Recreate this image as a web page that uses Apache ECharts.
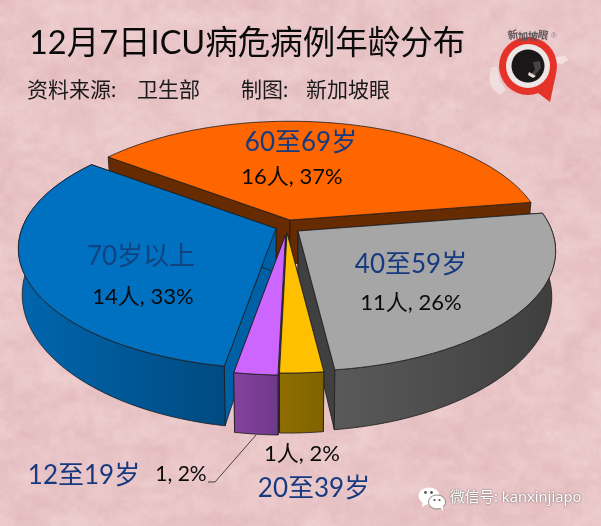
<!DOCTYPE html>
<html>
<head>
<meta charset="utf-8">
<style>html,body{margin:0;padding:0;background:#e8c0c2;overflow:hidden}#chart{width:601px;height:526px}</style>
<script src="https://cdn.jsdelivr.net/npm/echarts@6/dist/echarts.min.js"></script>
</head>
<body>
<div id="chart"></div>
<script>
// Cases by age group, listed clockwise from the back of the pie.
const ageGroups = ['60至69岁', '40至59岁', '20至39岁', '12至19岁', '70岁以上'];
const caseCounts = [16, 11, 1, 1, 14];
const countLabels = ['16人, 37%', '11人, 26%', '1人, 2%', '1, 2%', '14人, 33%'];

// Colours of each wedge: top face, cut faces, outer wall gradient.
const topColors = ['#FF6600', '#A6A6A6', '#FFC000', '#CC66FF', '#0070C0'];
const cutColors = ['#662B00', '#404040', '#6E5300', '#6A2F8C', '#0060A6'];
const wallFrom = ['#662B00', '#5A5A5A', '#8F6E00', '#85419F', '#0066AE'];
const wallTo = ['#662B00', '#3E3E3E', '#806300', '#6E3A8A', '#004A80'];

// Layout of the exploded wedges: apex, scale and paint order.
const apexX = [290, 298, 287, 285.5, 276];
const apexY = [220, 231, 233, 235, 228.5];
const wedgeScale = [0.985, 1, 1, 1, 1];
const drawOrder = [0, 4, 1, 3, 2];
const nameAt = [[301, 143], [411, 265], [314, 489], [84, 476], [141, 257]];
const detailAt = [[292, 177], [411, 303], [302, 454], [181, 474], [143, 297]];
const nameColors = ['#163A80', '#163A80', '#163A80', '#163A80', '#10437F'];

// Perspective of the disc.
const startDeg = -53;
const radiusX = 254, radiusY = 116.7, persp = 1 / 6;
const depth = 44, depthPersp = 0.267, bottomShrink = 0.985;
const outline = { stroke: '#1c1c1c', lineWidth: 0.8 };
const cjk = 'Lato, "Noto Sans CJK SC", sans-serif';

// Mottled paper used as the page background.
function paperTexture(w, h) {
  const c = document.createElement('canvas');
  c.width = w; c.height = h;
  const g = c.getContext('2d');
  const img = g.createImageData(w, h);
  const hash = (x, y) => {
    const s = Math.sin(x * 127.1 + y * 311.7) * 43758.5453;
    return s - Math.floor(s);
  };
  const noise = (x, y) => {
    const xi = Math.floor(x), yi = Math.floor(y);
    let fx = x - xi, fy = y - yi;
    fx = fx * fx * (3 - 2 * fx); fy = fy * fy * (3 - 2 * fy);
    const a = hash(xi, yi), b = hash(xi + 1, yi), d = hash(xi, yi + 1), e = hash(xi + 1, yi + 1);
    return (a + (b - a) * fx) * (1 - fy) + (d + (e - d) * fx) * fy;
  };
  for (let y = 0; y < h; y++) {
    for (let x = 0; x < w; x++) {
      const n = noise(x / 26, y / 18) * 0.45 + noise(x / 9, y / 7) * 0.35 + noise(x / 3, y / 3) * 0.2 - 0.5;
      const i = (y * w + x) * 4;
      img.data[i] = 233 + n * 16;
      img.data[i + 1] = 197 + n * 26;
      img.data[i + 2] = 199 + n * 26;
      img.data[i + 3] = 255;
    }
  }
  g.putImageData(img, 0, 0);
  return c;
}

// Cumulative sweep of each wedge, in case counts.
const total = caseCounts.reduce((a, b) => a + b, 0);
const sweepStart = [];
caseCounts.reduce((acc, v, i) => { sweepStart[i] = acc; return acc + v; }, 0);

function topPoint(ax, ay, deg, r) {
  const t = deg * Math.PI / 180;
  const X = r * Math.sin(t), Y = r * Math.cos(t);
  const w = 1 + persp * Y;
  return [ax + radiusX * X / w, ay - radiusY * Y / w];
}
function bottomPoint(ax, ay, deg, r) {
  const t = deg * Math.PI / 180;
  const p = topPoint(ax, ay, deg, r);
  const Y = r * Math.cos(t);
  return [ax + (p[0] - ax) * bottomShrink, p[1] + depth / (1 + depthPersp * Y)];
}
function poly(points, fill) {
  return { type: 'polygon', shape: { points }, style: Object.assign({ fill }, outline) };
}

function renderWedge(params, api) {
  const slot = api.value(0);
  const value = api.value(1);
  const ax = apexX[slot], ay = apexY[slot];
  const scale = wedgeScale[slot];
  const a0 = startDeg + sweepStart[slot] / total * 360;
  const a1 = a0 + value / total * 360;
  const arcTop = [], arcBottom = [];
  const steps = Math.max(4, Math.ceil(a1 - a0));
  for (let i = 0; i <= steps; i++) {
    const d = a0 + (a1 - a0) * i / steps;
    arcTop.push(topPoint(ax, ay, d, scale));
    arcBottom.push(bottomPoint(ax, ay, d, scale));
  }
  const apexTop = [ax, ay];
  const apexBottom = bottomPoint(ax, ay, 0, 0);
  const cutFace = (i) => [apexTop, arcTop[i], arcBottom[i], apexBottom];
  const parts = [poly(cutFace(0), cutColors[slot]), poly(cutFace(steps), cutColors[slot])];
  // The back wedge shows no outer wall.
  if (slot !== 0) {
    parts.push(poly(arcTop.concat(arcBottom.slice().reverse()),
      new echarts.graphic.LinearGradient(0, 0, 1, 0, [
        { offset: 0, color: wallFrom[slot] },
        { offset: 1, color: wallTo[slot] }
      ])));
  }
  parts.push(poly([apexTop].concat(arcTop), topColors[slot]));
  return { type: 'group', children: parts };
}

function renderLabels(params, api) {
  const slot = api.value(0);
  return {
    type: 'group',
    children: [
      { type: 'text', style: { text: ageGroups[slot], x: nameAt[slot][0], y: nameAt[slot][1],
          align: 'center', verticalAlign: 'middle', fontSize: 26, fontFamily: cjk, fill: nameColors[slot] } },
      { type: 'text', style: { text: countLabels[slot], x: detailAt[slot][0], y: detailAt[slot][1],
          align: 'center', verticalAlign: 'middle', fontSize: slot === 3 ? 21 : 22, fontFamily: cjk, fill: '#0a0a0a' } }
    ]
  };
}

const chart = echarts.init(document.getElementById('chart'), null, { renderer: 'canvas' });
const subtitle = [['资料来源:', 27], ['卫生部', 137], ['制图:', 241], ['新加坡眼', 306]];

// Brand mark in the top right corner.
const logoChars = ['新', '加', '坡', '眼'];
const logo = [
  { type: 'polygon', shape: { points: [[491, 68], [497, 66], [500, 80], [506, 90], [500, 95], [493, 90], [489, 80]] }, style: { fill: '#f6ecec', opacity: 0.6 } },
  { type: 'polygon', shape: { points: [[556, 57], [565, 56], [568, 60], [562, 64], [556, 63]] }, style: { fill: '#f6ecec', opacity: 0.7 } },
  { type: 'polygon', shape: { points: [[534, 90], [556, 74], [550, 102]] }, style: { fill: '#E5332A' } },
  { type: 'circle', shape: { cx: 528, cy: 66, r: 29 }, style: { fill: '#E5332A' } },
  { type: 'circle', shape: { cx: 528, cy: 66, r: 22 }, style: { fill: '#EDE6E4' } },
  { type: 'circle', shape: { cx: 528, cy: 66, r: 16.5 }, style: { fill: '#1A1718' } },
  { type: 'polygon', shape: { points: [[533, 62], [540, 61], [541, 68], [533, 77], [530, 75], [535, 70]] }, style: { fill: '#4a4245' } },
  { type: 'polygon', shape: { points: [[529, 72], [536, 76], [533, 78], [528, 75]] }, style: { fill: '#e8d8d4' } }
].concat(logoChars.map((ch, i) => ({
  type: 'text', rotation: (1.5 - i) * 0.12, x: 513 + i * 10, y: 36 - 1.5 * Math.abs(1.5 - i) + 1.5,
  style: { text: ch, align: 'center', verticalAlign: 'middle', fontSize: 10.5, fontWeight: 'bold', fontFamily: cjk, fill: '#5b5557' }
}))).concat([
  { type: 'text', style: { text: '®', x: 554, y: 36, align: 'center', verticalAlign: 'middle', fontSize: 8, fill: '#8a7f80' } }
]);

// WeChat account mark in the lower right corner.
const account = [
  { type: 'ellipse', shape: { cx: 429, cy: 496, rx: 10.5, ry: 8.5 }, style: { fill: '#fff' } },
  { type: 'polygon', shape: { points: [[423, 501], [422, 507], [429, 503]] }, style: { fill: '#fff' } },
  { type: 'ellipse', shape: { cx: 437, cy: 502, rx: 8.5, ry: 7 }, style: { fill: '#fff', stroke: '#8b8384', lineWidth: 1 } },
  { type: 'polygon', shape: { points: [[440, 507], [443, 511], [443, 505]] }, style: { fill: '#fff' } },
  { type: 'circle', shape: { cx: 425.5, cy: 492.5, r: 1.4 }, style: { fill: '#555' } },
  { type: 'circle', shape: { cx: 431.5, cy: 492.5, r: 1.4 }, style: { fill: '#555' } },
  { type: 'circle', shape: { cx: 434.5, cy: 500, r: 1.1 }, style: { fill: '#555' } },
  { type: 'circle', shape: { cx: 439.5, cy: 500, r: 1.1 }, style: { fill: '#555' } },
  { type: 'text', style: { text: '微信号: kanxinjiapo', x: 450, y: 498, verticalAlign: 'middle', fontSize: 14.7,
      fontFamily: '"Noto Sans", "Noto Sans CJK SC", sans-serif', fill: '#fff', textShadowColor: '#4a4a4a', textShadowBlur: 2 } }
];

// Leader from the small wedge to its label.
const leader = [
  { type: 'polyline', shape: { points: [[256, 435], [215, 482], [208, 482]] }, style: { stroke: '#333', lineWidth: 0.9, fill: 'none' } }
];

chart.setOption({
  animation: false,
  backgroundColor: { image: paperTexture(601, 526), repeat: 'no-repeat' },
  title: {
    text: '12月7日ICU病危病例年龄分布',
    left: 24, top: 22,
    textStyle: { fontSize: 32.5, fontWeight: 'normal', color: '#0a0a0a', fontFamily: cjk }
  },
  graphic: subtitle.map(([text, x]) => ({
    type: 'text', x, y: 90,
    style: { text, verticalAlign: 'middle', fontSize: 21, fontFamily: cjk, fill: '#1a1a1a' }
  })).concat(logo, account, leader),
  series: [
    {
      type: 'custom',
      coordinateSystem: 'none',
      silent: true,
      renderItem: renderWedge,
      data: drawOrder.map((i) => [i, caseCounts[i]])
    },
    {
      type: 'custom',
      coordinateSystem: 'none',
      silent: true,
      z: 3,
      renderItem: renderLabels,
      data: drawOrder.map((i) => [i, caseCounts[i]])
    }
  ]
});
</script>
</body>
</html>
